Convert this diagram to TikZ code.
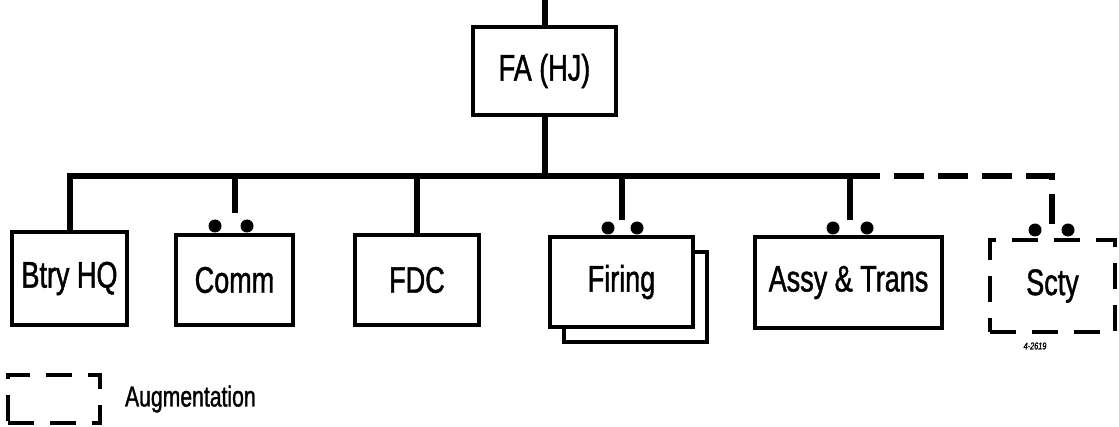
\documentclass[tikz,border=0pt]{standalone}
\usepackage{fontspec}
\setmainfont{Liberation Sans}[FakeStretch=0.73, FakeBold=1.2]
\tikzset{
  unit/.style={draw, line width=2pt, fill=white, inner sep=0pt,
    minimum height=45pt, font=\fontsize{18.5}{22}\selectfont},
  augunit/.style={unit, dash pattern=on 13pt off 8pt},
  bus/.style={line width=3pt},
  knob/.style={circle, fill=black, inner sep=0pt, minimum size=6.5pt}
}

\begin{document}
\begin{tikzpicture}[x=0.5pt, y=-0.5pt]
    \useasboundingbox (0,0) rectangle (1119,427);

    % Headquarters
    \coordinate (top) at (544.5,0);
    \node[unit, minimum width=71.5pt, minimum height=44pt] (FA) at (544.5,71) {FA (HJ)};

    % Units under the bus
    \node[unit, minimum width=57.5pt, minimum height=46.5pt] (btry) at (69.5,278.5) {Btry HQ};
    \node[unit, minimum width=58.5pt] (comm) at (234.5,280) {Comm};
    \node[unit, minimum width=62pt] (fdc) at (417,280) {FDC};
    \node[unit, minimum width=71.5pt] (firing-bk) at (635.5,297) {};
    \node[unit, minimum width=71.5pt] (firing) at (621.5,282) {Firing};
    \node[unit, minimum width=93.5pt, minimum height=45.5pt] (assy) at (848.5,282.5) {Assy \& Trans};
    \node[augunit, minimum width=62.5pt, minimum height=46pt] (scty) at (1052.5,286) {Scty};

    % Knobs on the boxes
    \node[knob] (comm-l) at (215,226) {};
    \node[knob] (comm-r) at (247,226) {};
    \node[knob] (firing-l) at (608,228) {};
    \node[knob] (firing-r) at (637,228) {};
    \node[knob] (assy-l) at (833,228) {};
    \node[knob] (assy-r) at (867,228) {};
    \node[knob] (scty-l) at (1035,230) {};
    \node[knob] (scty-r) at (1068,230) {};

    % Bus points
    \coordinate (b-btry) at (69.5,176);
    \coordinate (b-fa) at (544.5,176);
    \coordinate (b-comm) at (234.5,176);
    \coordinate (b-fdc) at (417,176);
    \coordinate (b-firing) at (622,176);
    \coordinate (b-assy) at (850,176);
    \coordinate (b-scty) at (1052,176);
    \coordinate (s-comm) at (234.5,213);
    \coordinate (s-firing) at (622,220);
    \coordinate (s-assy) at (850,220);
    \coordinate (s-scty) at (1052,224);

    % Lines
    \draw[bus] (top) -- (FA.north);
    \draw[bus] (FA.south) -- (b-fa);
    \draw[bus] (btry.north) -- (b-btry) -- (b-assy);
    \draw[bus] (b-comm) -- (s-comm);
    \draw[bus] (b-fdc) -- (fdc.north);
    \draw[bus] (b-firing) -- (s-firing);
    \draw[bus] (b-assy) -- (s-assy);
    \draw[bus, dash pattern=on 15pt off 7pt] (b-assy) -- (b-scty) -- (s-scty);

    % Legend
    \node[augunit, minimum width=46pt, minimum height=24pt] (legend) at (54,399) {};
    \node[anchor=west, font=\fontsize{14.5}{17}\selectfont] (legend-text) at (legend.east) [xshift=8pt] {Augmentation};
    \node[font=\fontsize{5}{6}\selectfont\itshape] (drawing-no) at (1035,346) {4-2619};
\end{tikzpicture}
\end{document}
